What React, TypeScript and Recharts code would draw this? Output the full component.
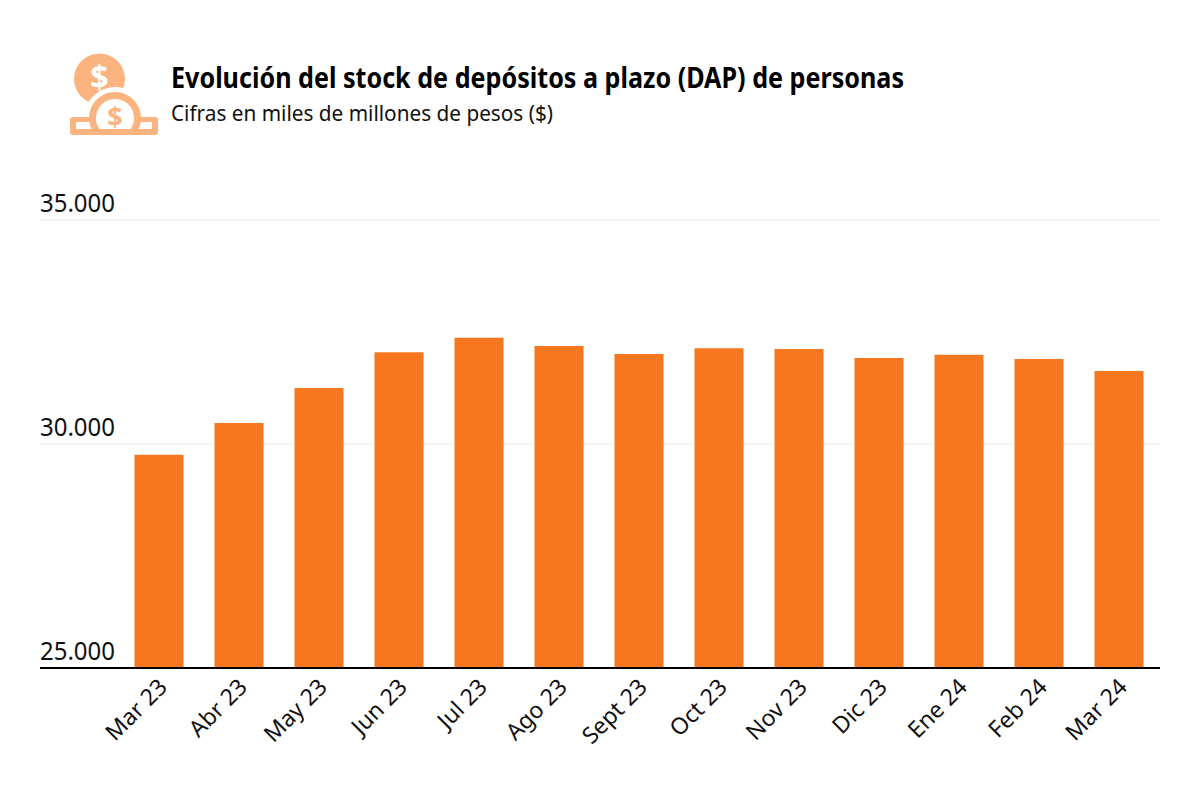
import React from "react";
import { BarChart, Bar, XAxis, YAxis, CartesianGrid } from "recharts";

const categories = ["Mar 23","Abr 23","May 23","Jun 23","Jul 23","Ago 23","Sept 23","Oct 23","Nov 23","Dic 23","Ene 24","Feb 24","Mar 24"];
const values = [29760,30470,31250,32050,32370,32190,32010,32140,32120,31920,31990,31900,31630];
const yTicks = [25000,30000,35000];
const yLabels = ["25.000","30.000","35.000"];
const titleText = "Evolución del stock de depósitos a plazo (DAP) de personas";
const subtitleText = "Cifras en miles de millones de pesos ($)";
const data = categories.map((name, i) => ({ name, value: values[i] }));

const FONT = "'Noto Sans', sans-serif";
const ICON = "#FBB480";

const YTick = (p: any) => (
  <text x={32} y={p.y - 8.5} fontFamily={FONT} fontSize={25} fill="#111" textAnchor="start" textLength={75} lengthAdjust="spacingAndGlyphs">
    {yLabels[yTicks.indexOf(p.payload.value)]}
  </text>
);
const XTick = (p: any) => (
  <text transform={`translate(${p.x + 10},${p.y + 12.5}) rotate(-45)`} fontFamily={FONT} fontSize={23} fill="#111" textAnchor="end">
    {p.payload.value}
  </text>
);

const Icon = () => (
  <g transform="translate(-8,-8)">
    <path fill={ICON} d="M123.3 88.13A25.5 25.5 0 1 0 88.46 101.97A31 31 0 0 1 123.3 88.13Z" />
    <text x="99.5" y="89" fontFamily={FONT} fontWeight={700} fontSize={32} fill="#fff" textAnchor="middle">$</text>
    <rect x="70" y="117" width="88" height="18" rx="3" fill={ICON} />
    <rect x="76" y="122" width="16" height="7" fill="#fff" />
    <rect x="138" y="122" width="14" height="7" fill="#fff" />
    <path fill={ICON} d="M91.44 129A26 26 0 1 1 138.56 129Z" />
    <path fill="#fff" d="M99.5 129A19 19 0 1 1 130.5 129Z" />
    <text x="115" y="127" fontFamily={FONT} fontWeight={700} fontSize={27} fill={ICON} textAnchor="middle">$</text>
  </g>
);

export default function App() {
  return (
    <BarChart width={1184} height={784} data={data} barSize={49}
      margin={{ top: 212, right: 32, bottom: 123, left: 31 }}>
      <CartesianGrid horizontal vertical={false} stroke="#e6e6e6" strokeWidth={1} />
      <YAxis type="number" domain={[25000,35000]} ticks={yTicks} width={1} axisLine={false} tickLine={false} tick={<YTick />} interval={0} />
      <Bar dataKey="value" fill="#F6771F" isAnimationActive={false} />
      <XAxis dataKey="name" height={1} interval={0} padding={{ left: 78.5, right: 1.5 }} tickLine={false} axisLine={{ stroke: "#000", strokeWidth: 2 }} tick={<XTick />} />
      <Icon />
      <text x={163} y={80} fontFamily={FONT} fontWeight={700} fontSize={28} fill="#000" textLength={733} lengthAdjust="spacingAndGlyphs">{titleText}</text>
      <text x={163} y={113} fontFamily={FONT} fontSize={21} fill="#111" textLength={382} lengthAdjust="spacingAndGlyphs">{subtitleText}</text>
    </BarChart>
  );
}
